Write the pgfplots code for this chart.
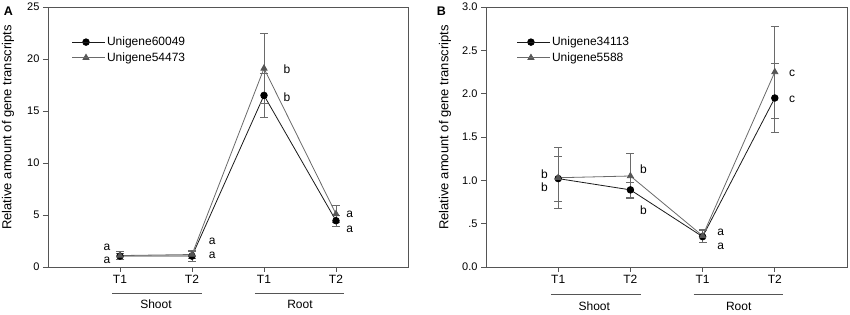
\documentclass[border=0pt]{standalone}
\usepackage{pgfplots}
\pgfplotsset{compat=1.18}
\usepackage{fontspec}
\setmainfont{Liberation Sans}
\definecolor{dk}{HTML}{1A1A1A}
\definecolor{gr}{HTML}{6A6A6A}
\definecolor{gm}{HTML}{555555}
\definecolor{ax}{HTML}{555555}
\newcommand{\fs}{\fontsize{12}{14}\selectfont}
\newcommand{\fy}{\fontsize{11}{13}\selectfont}
\pgfplotsset{
 common/.style={
  scale only axis, width=360pt, height=260pt,
  xmin=0, xmax=5, xtick={1,2,3,4}, xticklabels={T1,T2,T1,T2},
  tick pos=left, tick align=outside, major tick length=5pt,
  axis line style={ax, line width=0.8pt}, tick style={ax, line width=0.8pt},
  yticklabel style={font=\fy, text=black},
  xticklabel style={font=\fs, text=black},
  /pgf/number format/assume math mode=true,
  clip=false,
  legend style={draw=none, fill=none, font=\fs, anchor=north west, row sep=1.5pt, inner sep=0pt, cells={anchor=west}},
  legend image code/.code={\draw[mark repeat=2,mark phase=2] plot coordinates {(0cm,0cm) (0.48cm,0cm) (0.96cm,0cm)}; \path (0,0) -- (0.96cm+5pt,0);},
 },
 eb/.style={error bars/.cd, y dir=both, y explicit, error bar style={gr, line width=0.7pt}, error mark options={gr, rotate=90, mark size=4pt, line width=0.7pt}, /pgfplots/.cd},
 s1/.style={dk, line width=0.8pt, mark=*, mark size=3.3pt, mark options={fill=black, draw=black, solid}, eb},
 s2/.style={gr, line width=0.8pt, mark=triangle*, mark size=3.5pt, mark options={fill=gm, draw=gm, solid}, eb},
}
\begin{document}
\begin{tikzpicture}
\useasboundingbox (0,0) rectangle (850pt,315pt);
\node[font=\bfseries\fontsize{12.5}{14}\selectfont] at (8.5pt,304pt) {A};
\node[font=\bfseries\fontsize{12.5}{14}\selectfont] at (441.5pt,304pt) {B};
% Panel A
\begin{axis}[common, at={(48pt,48pt)}, anchor=south west,
  ymin=0, ymax=25, ytick={0,5,10,15,20,25},
  legend style={at={(rel axis cs:0.066,0.893)}}]
\addplot[s1] coordinates {(1,1.05) +- (0,0.3) (2,1.05) +- (0,0.5) (3,16.5) +- (0,2.1) (4,4.45) +- (0,0.55)};
\addlegendentry{Unigene60049}
\addplot[s2] coordinates {(1,1.1) +- (0,0.4) (2,1.2) +- (0,0.4) (3,19.1) +- (0,3.4) (4,5.1) +- (0,0.8)};
\addlegendentry{Unigene54473}
\node[rotate=90, font=\fontsize{13}{15}\selectfont] at ([xshift=-40pt, yshift=9.5pt]rel axis cs:0,0.5) {Relative amount of gene transcripts};
\begin{scope}[font=\fs]
\node at (axis cs:0.82,1.9) {a};
\node at (axis cs:0.82,0.65) {a};
\node at (axis cs:2.28,2.5) {a};
\node at (axis cs:2.28,1.15) {a};
\node at (axis cs:3.32,19.0) {b};
\node at (axis cs:3.32,16.35) {b};
\node at (axis cs:4.19,5.1) {a};
\node at (axis cs:4.19,3.65) {a};
\draw[ax, line width=0.8pt] ([yshift=-26pt]axis cs:0.89,0) -- ([yshift=-26pt]axis cs:2.14,0);
\draw[ax, line width=0.8pt] ([yshift=-26pt]axis cs:2.875,0) -- ([yshift=-26pt]axis cs:4.11,0);
\node at ([yshift=-37pt]axis cs:1.5,0) {Shoot};
\node at ([yshift=-37pt]axis cs:3.5,0) {Root};
\end{scope}
\end{axis}
% Panel B
\begin{axis}[common, at={(486pt,48pt)}, anchor=south west, width=361pt,
  ymin=0, ymax=3, ytick={0,0.5,1,1.5,2,2.5,3}, yticklabels={0.0,.5,1.0,1.5,2.0,2.5,3.0},
  legend style={at={(rel axis cs:0.085,0.893)}}]
\addplot[s1] coordinates {(1,1.02) +- (0,0.26) (2,0.89) +- (0,0.09) (3,0.35) +- (0,0.07) (4,1.95) +- (0,0.4)};
\addlegendentry{Unigene34113}
\addplot[s2] coordinates {(1,1.03) +- (0,0.35) (2,1.05) +- (0,0.26) (3,0.36) +- (0,0.07) (4,2.25) +- (0,0.53)};
\addlegendentry{Unigene5588}
\node[rotate=90, font=\fontsize{13}{15}\selectfont] at ([xshift=-41pt, yshift=9.5pt]rel axis cs:0,0.5) {Relative amount of gene transcripts};
\begin{scope}[font=\fs]
\node at (axis cs:0.81,1.07) {b};
\node at (axis cs:0.81,0.92) {b};
\node at (axis cs:2.18,1.13) {b};
\node at (axis cs:2.18,0.65) {b};
\node at (axis cs:3.25,0.40) {a};
\node at (axis cs:3.25,0.24) {a};
\node at (axis cs:4.24,2.24) {c};
\node at (axis cs:4.24,1.93) {c};
\draw[ax, line width=0.8pt] ([yshift=-27pt]axis cs:0.9,0) -- ([yshift=-27pt]axis cs:2.15,0);
\draw[ax, line width=0.8pt] ([yshift=-27pt]axis cs:2.875,0) -- ([yshift=-27pt]axis cs:4.12,0);
\node at ([yshift=-39pt]axis cs:1.5,0) {Shoot};
\node at ([yshift=-39pt]axis cs:3.5,0) {Root};
\end{scope}
\end{axis}
\end{tikzpicture}
\end{document}
